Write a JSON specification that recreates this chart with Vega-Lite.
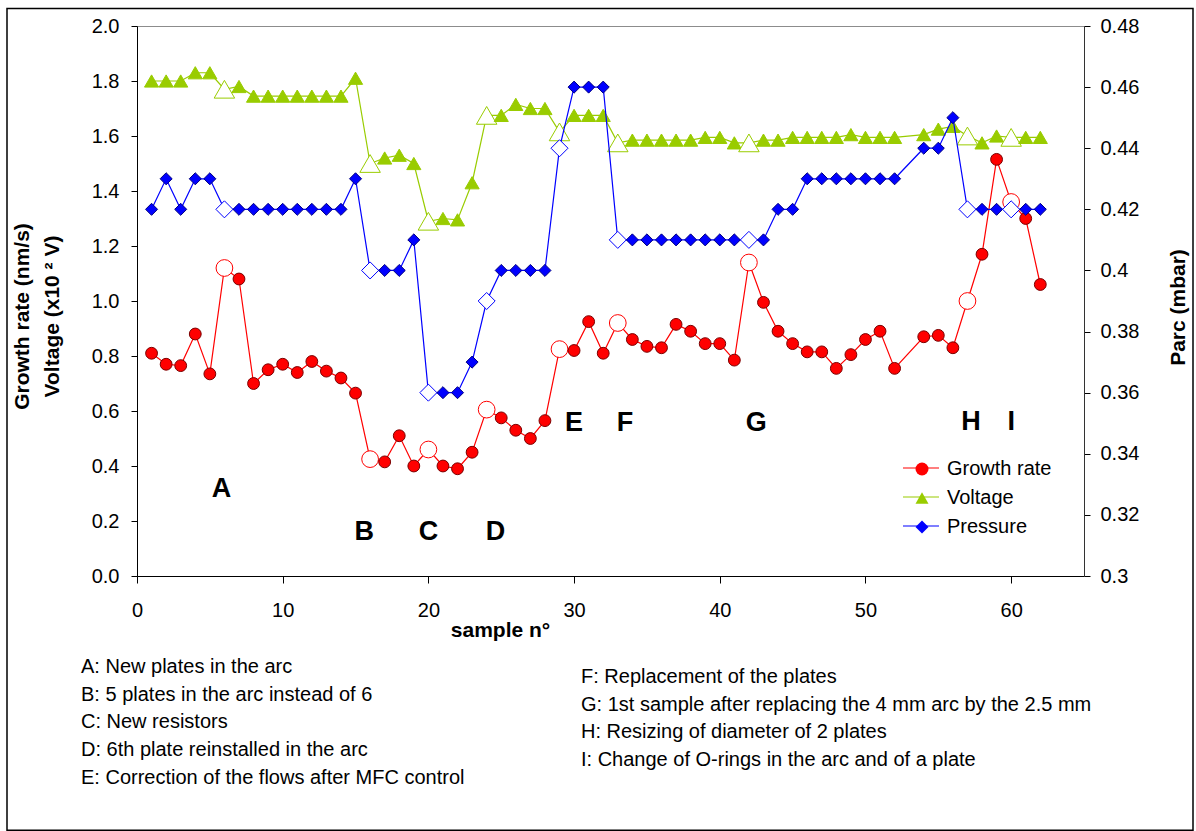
{
  "$schema": "https://vega.github.io/schema/vega-lite/v6.json",
  "width": 947,
  "height": 550,
  "autosize": {"type": "none"},
  "padding": {"left": 137, "top": 26, "right": 112, "bottom": 255},
  "background": "white",
  "datasets": {
    "samples": [
      {"n":1,"series":"Growth rate","value":0.81},{"n":2,"series":"Growth rate","value":0.77},{"n":3,"series":"Growth rate","value":0.765},{"n":4,"series":"Growth rate","value":0.88},{"n":5,"series":"Growth rate","value":0.735},{"n":6,"series":"Growth rate","value":1.12,"event":"A"},{"n":7,"series":"Growth rate","value":1.08},{"n":8,"series":"Growth rate","value":0.70},{"n":9,"series":"Growth rate","value":0.75},{"n":10,"series":"Growth rate","value":0.77},{"n":11,"series":"Growth rate","value":0.74},{"n":12,"series":"Growth rate","value":0.78},{"n":13,"series":"Growth rate","value":0.745},{"n":14,"series":"Growth rate","value":0.72},{"n":15,"series":"Growth rate","value":0.665},{"n":16,"series":"Growth rate","value":0.425,"event":"B"},{"n":17,"series":"Growth rate","value":0.415},{"n":18,"series":"Growth rate","value":0.51},{"n":19,"series":"Growth rate","value":0.40},{"n":20,"series":"Growth rate","value":0.46,"event":"C"},{"n":21,"series":"Growth rate","value":0.40},{"n":22,"series":"Growth rate","value":0.39},{"n":23,"series":"Growth rate","value":0.45},{"n":24,"series":"Growth rate","value":0.605,"event":"D"},{"n":25,"series":"Growth rate","value":0.575},{"n":26,"series":"Growth rate","value":0.53},{"n":27,"series":"Growth rate","value":0.50},{"n":28,"series":"Growth rate","value":0.565},{"n":29,"series":"Growth rate","value":0.825,"event":"E"},{"n":30,"series":"Growth rate","value":0.82},{"n":31,"series":"Growth rate","value":0.925},{"n":32,"series":"Growth rate","value":0.81},{"n":33,"series":"Growth rate","value":0.92,"event":"F"},{"n":34,"series":"Growth rate","value":0.86},{"n":35,"series":"Growth rate","value":0.835},{"n":36,"series":"Growth rate","value":0.83},{"n":37,"series":"Growth rate","value":0.915},{"n":38,"series":"Growth rate","value":0.89},{"n":39,"series":"Growth rate","value":0.845},{"n":40,"series":"Growth rate","value":0.845},{"n":41,"series":"Growth rate","value":0.785},{"n":42,"series":"Growth rate","value":1.14,"event":"G"},{"n":43,"series":"Growth rate","value":0.995},{"n":44,"series":"Growth rate","value":0.89},{"n":45,"series":"Growth rate","value":0.845},{"n":46,"series":"Growth rate","value":0.815},{"n":47,"series":"Growth rate","value":0.815},{"n":48,"series":"Growth rate","value":0.755},{"n":49,"series":"Growth rate","value":0.805},{"n":50,"series":"Growth rate","value":0.86},{"n":51,"series":"Growth rate","value":0.89},{"n":52,"series":"Growth rate","value":0.755},{"n":54,"series":"Growth rate","value":0.87},{"n":55,"series":"Growth rate","value":0.875},{"n":56,"series":"Growth rate","value":0.83},{"n":57,"series":"Growth rate","value":1.00,"event":"H"},{"n":58,"series":"Growth rate","value":1.17},{"n":59,"series":"Growth rate","value":1.515},{"n":60,"series":"Growth rate","value":1.36,"event":"I"},{"n":61,"series":"Growth rate","value":1.30},{"n":62,"series":"Growth rate","value":1.06},
      {"n":1,"series":"Voltage","value":1.80},{"n":2,"series":"Voltage","value":1.80},{"n":3,"series":"Voltage","value":1.80},{"n":4,"series":"Voltage","value":1.83},{"n":5,"series":"Voltage","value":1.83},{"n":6,"series":"Voltage","value":1.77,"event":"A"},{"n":7,"series":"Voltage","value":1.78},{"n":8,"series":"Voltage","value":1.745},{"n":9,"series":"Voltage","value":1.745},{"n":10,"series":"Voltage","value":1.745},{"n":11,"series":"Voltage","value":1.745},{"n":12,"series":"Voltage","value":1.745},{"n":13,"series":"Voltage","value":1.745},{"n":14,"series":"Voltage","value":1.745},{"n":15,"series":"Voltage","value":1.81},{"n":16,"series":"Voltage","value":1.50,"event":"B"},{"n":17,"series":"Voltage","value":1.52},{"n":18,"series":"Voltage","value":1.53},{"n":19,"series":"Voltage","value":1.50},{"n":20,"series":"Voltage","value":1.29,"event":"C"},{"n":21,"series":"Voltage","value":1.30},{"n":22,"series":"Voltage","value":1.295},{"n":23,"series":"Voltage","value":1.43},{"n":24,"series":"Voltage","value":1.675,"event":"D"},{"n":25,"series":"Voltage","value":1.675},{"n":26,"series":"Voltage","value":1.715},{"n":27,"series":"Voltage","value":1.70},{"n":28,"series":"Voltage","value":1.70},{"n":29,"series":"Voltage","value":1.615,"event":"E"},{"n":30,"series":"Voltage","value":1.675},{"n":31,"series":"Voltage","value":1.675},{"n":32,"series":"Voltage","value":1.675},{"n":33,"series":"Voltage","value":1.575,"event":"F"},{"n":34,"series":"Voltage","value":1.585},{"n":35,"series":"Voltage","value":1.585},{"n":36,"series":"Voltage","value":1.585},{"n":37,"series":"Voltage","value":1.585},{"n":38,"series":"Voltage","value":1.585},{"n":39,"series":"Voltage","value":1.595},{"n":40,"series":"Voltage","value":1.595},{"n":41,"series":"Voltage","value":1.575},{"n":42,"series":"Voltage","value":1.575,"event":"G"},{"n":43,"series":"Voltage","value":1.585},{"n":44,"series":"Voltage","value":1.585},{"n":45,"series":"Voltage","value":1.595},{"n":46,"series":"Voltage","value":1.595},{"n":47,"series":"Voltage","value":1.595},{"n":48,"series":"Voltage","value":1.595},{"n":49,"series":"Voltage","value":1.605},{"n":50,"series":"Voltage","value":1.595},{"n":51,"series":"Voltage","value":1.595},{"n":52,"series":"Voltage","value":1.595},{"n":54,"series":"Voltage","value":1.605},{"n":55,"series":"Voltage","value":1.625},{"n":56,"series":"Voltage","value":1.635},{"n":57,"series":"Voltage","value":1.60,"event":"H"},{"n":58,"series":"Voltage","value":1.575},{"n":59,"series":"Voltage","value":1.60},{"n":60,"series":"Voltage","value":1.595,"event":"I"},{"n":61,"series":"Voltage","value":1.595},{"n":62,"series":"Voltage","value":1.595},
      {"n":1,"series":"Pressure","value":0.42},{"n":2,"series":"Pressure","value":0.43},{"n":3,"series":"Pressure","value":0.42},{"n":4,"series":"Pressure","value":0.43},{"n":5,"series":"Pressure","value":0.43},{"n":6,"series":"Pressure","value":0.42,"event":"A"},{"n":7,"series":"Pressure","value":0.42},{"n":8,"series":"Pressure","value":0.42},{"n":9,"series":"Pressure","value":0.42},{"n":10,"series":"Pressure","value":0.42},{"n":11,"series":"Pressure","value":0.42},{"n":12,"series":"Pressure","value":0.42},{"n":13,"series":"Pressure","value":0.42},{"n":14,"series":"Pressure","value":0.42},{"n":15,"series":"Pressure","value":0.43},{"n":16,"series":"Pressure","value":0.40,"event":"B"},{"n":17,"series":"Pressure","value":0.40},{"n":18,"series":"Pressure","value":0.40},{"n":19,"series":"Pressure","value":0.41},{"n":20,"series":"Pressure","value":0.36,"event":"C"},{"n":21,"series":"Pressure","value":0.36},{"n":22,"series":"Pressure","value":0.36},{"n":23,"series":"Pressure","value":0.37},{"n":24,"series":"Pressure","value":0.39,"event":"D"},{"n":25,"series":"Pressure","value":0.40},{"n":26,"series":"Pressure","value":0.40},{"n":27,"series":"Pressure","value":0.40},{"n":28,"series":"Pressure","value":0.40},{"n":29,"series":"Pressure","value":0.44,"event":"E"},{"n":30,"series":"Pressure","value":0.46},{"n":31,"series":"Pressure","value":0.46},{"n":32,"series":"Pressure","value":0.46},{"n":33,"series":"Pressure","value":0.41,"event":"F"},{"n":34,"series":"Pressure","value":0.41},{"n":35,"series":"Pressure","value":0.41},{"n":36,"series":"Pressure","value":0.41},{"n":37,"series":"Pressure","value":0.41},{"n":38,"series":"Pressure","value":0.41},{"n":39,"series":"Pressure","value":0.41},{"n":40,"series":"Pressure","value":0.41},{"n":41,"series":"Pressure","value":0.41},{"n":42,"series":"Pressure","value":0.41,"event":"G"},{"n":43,"series":"Pressure","value":0.41},{"n":44,"series":"Pressure","value":0.42},{"n":45,"series":"Pressure","value":0.42},{"n":46,"series":"Pressure","value":0.43},{"n":47,"series":"Pressure","value":0.43},{"n":48,"series":"Pressure","value":0.43},{"n":49,"series":"Pressure","value":0.43},{"n":50,"series":"Pressure","value":0.43},{"n":51,"series":"Pressure","value":0.43},{"n":52,"series":"Pressure","value":0.43},{"n":54,"series":"Pressure","value":0.44},{"n":55,"series":"Pressure","value":0.44},{"n":56,"series":"Pressure","value":0.45},{"n":57,"series":"Pressure","value":0.42,"event":"H"},{"n":58,"series":"Pressure","value":0.42},{"n":59,"series":"Pressure","value":0.42},{"n":60,"series":"Pressure","value":0.42,"event":"I"},{"n":61,"series":"Pressure","value":0.42},{"n":62,"series":"Pressure","value":0.42}
    ],
    "labels": [
      {"label":"A","n":5.8,"value":0.316},
      {"label":"B","n":15.6,"value":0.16},
      {"label":"C","n":20.0,"value":0.16},
      {"label":"D","n":24.6,"value":0.16},
      {"label":"E","n":30.0,"value":0.556},
      {"label":"F","n":33.5,"value":0.556},
      {"label":"G","n":42.5,"value":0.556},
      {"label":"H","n":57.25,"value":0.56},
      {"label":"I","n":60.0,"value":0.56}
    ],
    "notes": [
      {"col":1,"row":1,"text":"A: New plates in the arc"},
      {"col":1,"row":2,"text":"B: 5 plates in the arc instead of 6"},
      {"col":1,"row":3,"text":"C: New resistors"},
      {"col":1,"row":4,"text":"D: 6th plate reinstalled in the arc"},
      {"col":1,"row":5,"text":"E: Correction of the flows after MFC control"},
      {"col":2,"row":1,"text":"F: Replacement of the plates"},
      {"col":2,"row":2,"text":"G: 1st sample after replacing the 4 mm arc by the 2.5 mm"},
      {"col":2,"row":3,"text":"H: Resizing of diameter of 2 plates"},
      {"col":2,"row":4,"text":"I: Change of O-rings in the arc and of a plate"}
    ]
  },
  "layer": [
    {
      "encoding": {
        "x": {"field": "n", "type": "quantitative",
          "scale": {"domain": [0, 65], "nice": false, "zero": false},
          "axis": {"values": [0,10,20,30,40,50,60], "tickSize": 7, "labelPadding": 17, "labelFlush": false,
                   "title": "sample n°", "titleX": 363, "titleY": 54, "titleAlign": "center", "titleBaseline": "middle", "titleAnchor": null}},
        "y": {"field": "value", "type": "quantitative",
          "scale": {"domain": [0, 2], "nice": false, "zero": false},
          "axis": {"values": [0,0.2,0.4,0.6,0.8,1.0,1.2,1.4,1.6,1.8,2.0], "format": ".1f", "tickSize": 6, "labelPadding": 12,
                   "title": ["Growth rate (nm/s)", "Voltage (x10 ² V)"], "titleX": -115, "titleY": 290, "titleAngle": 270,
                   "titleAlign": "center", "titleBaseline": "middle", "titleLineHeight": 30, "titleAnchor": null}}
      },
      "layer": [
        {
          "data": {"name": "samples"},
          "transform": [{"filter": "datum.series != 'Pressure'"}],
          "mark": {"type": "line", "strokeWidth": 1.2},
          "encoding": {
            "stroke": {"field": "series", "type": "nominal",
              "scale": {"domain": ["Growth rate", "Voltage", "Pressure", "-"], "range": ["#FF0000", "#99CC00", "#0000FF", "#FFFFFF"]},
              "legend": {"title": null, "orient": "none", "legendX": 765, "legendY": 423, "direction": "vertical", "padding": 0,
                         "values": ["Growth rate", "Voltage", "Pressure"], "symbolType": "stroke", "symbolSize": 1296,
                         "symbolStrokeWidth": 1.2, "labelExpr": "''", "labelFont": "Liberation Sans", "labelFontSize": 20,
                         "rowPadding": -7.7, "zindex": 0}}
          }
        },
        {
          "data": {"name": "samples"},
          "transform": [{"filter": "datum.series != 'Pressure'"}],
          "mark": {"type": "point", "filled": true, "strokeWidth": 1, "opacity": 1},
          "encoding": {
            "fill": {"condition": {"test": "datum.event", "value": "white"}, "field": "series", "type": "nominal",
              "scale": {"domain": ["Growth rate", "Voltage", "Pressure"], "range": ["#FF0000", "#99CC00", "#0000FF"]},
              "legend": {"title": null, "orient": "none", "legendX": 775, "legendY": 433, "direction": "vertical", "padding": 0,
                         "labelFont": "Liberation Sans", "labelFontSize": 20, "labelColor": "black",
                         "symbolSize": 169, "labelOffset": 15, "rowPadding": 9, "symbolStrokeWidth": 0, "zindex": 2}},
            "shape": {"field": "series", "type": "nominal",
              "scale": {"domain": ["Growth rate", "Voltage", "Pressure"], "range": ["circle", "triangle-up", "diamond"]},
              "legend": {"title": null, "orient": "none", "legendX": 775, "legendY": 433, "direction": "vertical", "padding": 0,
                         "labelFont": "Liberation Sans", "labelFontSize": 20, "labelColor": "black",
                         "symbolSize": 169, "labelOffset": 15, "rowPadding": 9, "symbolStrokeWidth": 0, "zindex": 2}},
            "stroke": {"condition": [
                {"test": "datum.series == 'Growth rate' && datum.event", "value": "#FF0000"},
                {"test": "datum.series == 'Growth rate'", "value": "#7a0000"}
              ], "value": "#99CC00"},
            "size": {"condition": [
                {"test": "datum.event && datum.series == 'Voltage'", "value": 420},
                {"test": "datum.event", "value": 280},
                {"test": "datum.series == 'Voltage'", "value": 200}
              ], "value": 140}
          }
        },
        {
          "data": {"name": "labels"},
          "mark": {"type": "text", "font": "Liberation Sans", "fontWeight": "bold", "fontSize": 27, "color": "black", "align": "center", "baseline": "middle"},
          "encoding": {"text": {"field": "label"}}
        }
      ]
    },
    {
      "data": {"name": "samples"},
      "transform": [{"filter": "datum.series == 'Pressure'"}],
      "encoding": {
        "x": {"field": "n", "type": "quantitative", "scale": {"domain": [0, 65], "nice": false, "zero": false}, "axis": null},
        "y": {"field": "value", "type": "quantitative",
          "scale": {"domain": [0.3, 0.48], "nice": false, "zero": false},
          "axis": {"orient": "right", "values": [0.3,0.32,0.34,0.36,0.38,0.4,0.42,0.44,0.46,0.48], "format": ".2~f",
                   "tickSize": 6, "labelPadding": 10, "domainColor": "#333333",
                   "title": "Parc (mbar)", "titleX": 94, "titleY": 281, "titleAngle": 270, "titleAlign": "center", "titleBaseline": "middle", "titleAnchor": null}}
      },
      "layer": [
        {
          "mark": {"type": "line", "strokeWidth": 1.2},
          "encoding": {
            "stroke": {"field": "series", "type": "nominal",
              "legend": {"title": null, "orient": "none", "legendX": 765, "legendY": 423, "direction": "vertical", "padding": 0,
                         "values": ["Growth rate", "Voltage", "Pressure"], "symbolType": "stroke", "symbolSize": 1296,
                         "symbolStrokeWidth": 1.2, "labelExpr": "''", "labelFont": "Liberation Sans", "labelFontSize": 20,
                         "rowPadding": -7.7, "zindex": 0}}
          }
        },
        {
          "mark": {"type": "point", "filled": true, "strokeWidth": 1, "opacity": 1},
          "encoding": {
            "fill": {"condition": {"test": "datum.event", "value": "white"}, "field": "series", "type": "nominal",
              "legend": {"title": null, "orient": "none", "legendX": 775, "legendY": 433, "direction": "vertical", "padding": 0,
                         "labelFont": "Liberation Sans", "labelFontSize": 20, "labelColor": "black",
                         "symbolSize": 169, "labelOffset": 15, "rowPadding": 9, "symbolStrokeWidth": 0, "zindex": 2}},
            "shape": {"field": "series", "type": "nominal",
              "legend": {"title": null, "orient": "none", "legendX": 775, "legendY": 433, "direction": "vertical", "padding": 0,
                         "labelFont": "Liberation Sans", "labelFontSize": 20, "labelColor": "black",
                         "symbolSize": 169, "labelOffset": 15, "rowPadding": 9, "symbolStrokeWidth": 0, "zindex": 2}},
            "stroke": {"condition": {"test": "datum.event", "value": "#0000FF"}, "value": "#000080"},
            "size": {"condition": {"test": "datum.event", "value": 290}, "value": 145}
          }
        }
      ]
    },
    {
      "data": {"name": "notes"},
      "encoding": {
        "x": {"field": "col", "type": "quantitative", "scale": {"domain": [1.112, 3.006], "nice": false, "zero": false}, "axis": null},
        "y": {"field": "row", "type": "quantitative", "scale": {"domain": [-21.96, -2.25], "reverse": true, "nice": false, "zero": false}, "axis": null}
      },
      "layer": [
        {
          "transform": [{"filter": "datum.col == 1"}],
          "mark": {"type": "text", "align": "left", "baseline": "middle", "font": "Liberation Sans", "fontSize": 20, "color": "black"},
          "encoding": {"text": {"field": "text"}}
        },
        {
          "transform": [{"filter": "datum.col == 2"}],
          "mark": {"type": "text", "align": "left", "baseline": "middle", "dy": 10, "font": "Liberation Sans", "fontSize": 20, "color": "black"},
          "encoding": {"text": {"field": "text"}}
        },
        {
          "transform": [{"filter": "datum.col == 1 && datum.row == 1"}],
          "mark": {"type": "rect", "fill": "transparent", "stroke": "black", "strokeWidth": 1.5},
          "encoding": {
            "x": {"datum": 0.852}, "x2": {"datum": 3.224},
            "y": {"datum": -22.59}, "y2": {"datum": 6.86}
          }
        }
      ]
    }
  ],
  "resolve": {"scale": {"x": "independent", "y": "independent"}},
  "config": {
    "view": {"stroke": "#8c8c8c", "strokeWidth": 1},
    "axis": {"labelFont": "Liberation Sans", "labelFontSize": 20, "labelColor": "black",
             "titleFont": "Liberation Sans", "titleFontSize": 21, "titleFontWeight": "bold", "titleColor": "black",
             "grid": false, "domainColor": "black", "tickColor": "black", "domainWidth": 1, "tickWidth": 1, "labelOverlap": false}
  }
}
